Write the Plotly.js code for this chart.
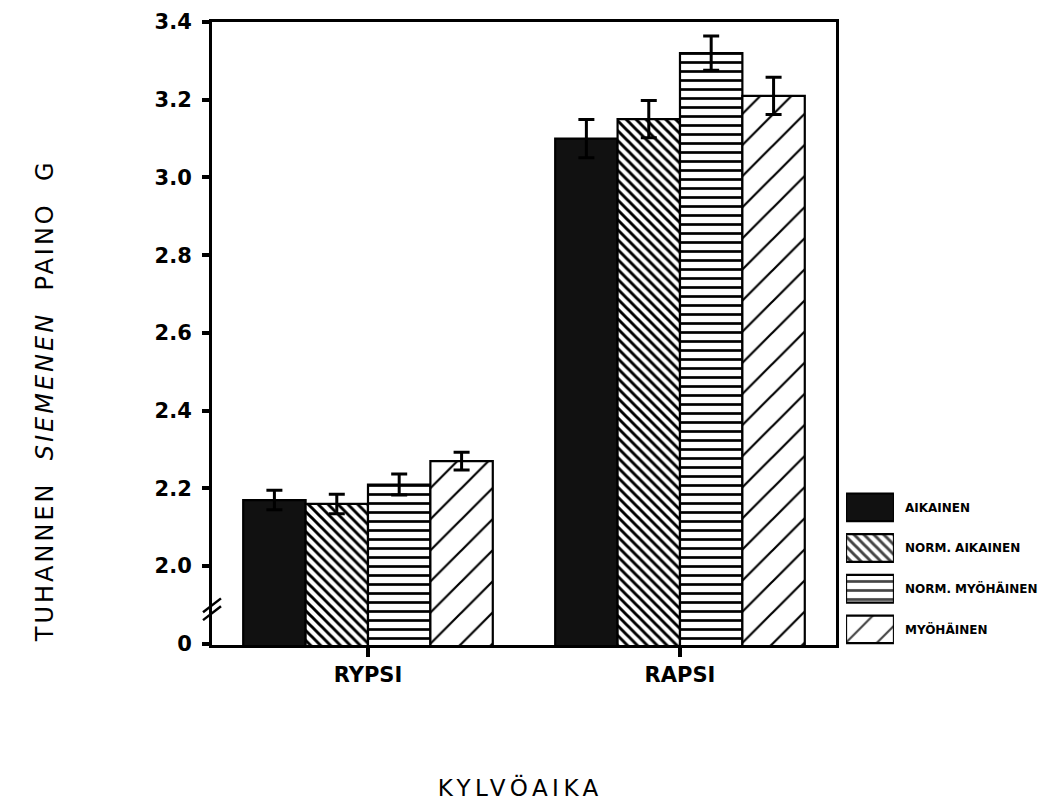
<!DOCTYPE html>
<html>
<head>
<meta charset="utf-8">
<script src="https://cdn.plot.ly/plotly-3.0.1.min.js"></script>
<style>
  html, body { margin: 0; padding: 0; background: #ffffff; }
  #chart { width: 1055px; height: 807px; }
  /* wide, spaced lettering for the axis captions */
  .annotation[data-index="0"] .annotation-text { letter-spacing: 3px; }
  .annotation[data-index="1"] .annotation-text { letter-spacing: 4.5px; }
</style>
</head>
<body>
<div id="chart"></div>
<script>
// Crops and sowing-time groups
const categories = ['RYPSI', 'RAPSI'];
const seriesNames = ['AIKAINEN', 'NORM. AIKAINEN', 'NORM. MYÖHÄINEN', 'MYÖHÄINEN'];

// Thousand-seed weight (g) per sowing time, in category order
const aikainen      = [2.17, 3.10];
const normAikainen  = [2.16, 3.15];
const normMyohainen = [2.21, 3.32];
const myohainen     = [2.27, 3.21];

// Error bar half-lengths (g)
const errAikainen      = [0.025, 0.049];
const errNormAikainen  = [0.025, 0.048];
const errNormMyohainen = [0.027, 0.044];
const errMyohainen     = [0.023, 0.048];

// Y ticks: the bottom tick stands for zero below the axis break
const yTickVals = [1.8, 2.0, 2.2, 2.4, 2.6, 2.8, 3.0, 3.2, 3.4];
const yTickText = ['0', '2.0', '2.2', '2.4', '2.6', '2.8', '3.0', '3.2', '3.4'];

const values = [aikainen, normAikainen, normMyohainen, myohainen];
const errors = [errAikainen, errNormAikainen, errNormMyohainen, errMyohainen];

// Fill style of each series: solid black, dense back-diagonal, horizontal, wide diagonal
const styles = [
  { color: '#111111', shape: '',   size: 8,  solidity: 0.3 },
  { color: '#ffffff', shape: '\\', size: 7,  solidity: 0.42 },
  { color: '#ffffff', shape: '-',  size: 9,  solidity: 0.3 },
  { color: '#ffffff', shape: '/',  size: 22, solidity: 0.1 }
];

const traces = seriesNames.map((name, i) => ({
  type: 'bar',
  name: name,
  x: categories,
  y: values[i],
  marker: {
    color: styles[i].color,
    line: { color: '#000000', width: 2.2 },
    pattern: {
      shape: styles[i].shape,
      fgcolor: '#000000',
      fgopacity: 1,
      bgcolor: styles[i].color,
      size: styles[i].size,
      solidity: styles[i].solidity,
      fillmode: 'overlay'
    }
  },
  error_y: {
    type: 'data',
    array: errors[i],
    visible: true,
    color: '#000000',
    thickness: 3,
    width: 8
  },
  showlegend: false,
  hoverinfo: 'skip'
}));

// Key: one swatch per sowing time, labelled on the right
traces.push({
  type: 'bar',
  orientation: 'h',
  y: seriesNames,
  x: seriesNames.map(() => 1),
  base: 0,
  width: 0.68,
  xaxis: 'x2',
  yaxis: 'y2',
  marker: {
    color: styles.map(s => s.color),
    line: { color: '#000000', width: 2.2 },
    pattern: {
      shape: styles.map(s => s.shape),
      fgcolor: '#000000',
      fgopacity: 1,
      bgcolor: styles.map(s => s.color),
      size: styles.map(s => s.size),
      solidity: styles.map(s => s.solidity),
      fillmode: 'overlay'
    }
  },
  showlegend: false,
  hoverinfo: 'skip'
});

const axisFont = { family: 'DejaVu Sans', size: 21, color: '#000000', weight: 'bold' };

const layout = {
  width: 1055,
  height: 807,
  paper_bgcolor: '#ffffff',
  plot_bgcolor: '#ffffff',
  margin: { l: 212, r: 5, t: 22, b: 147 },
  barmode: 'group',
  bargap: 0.2,
  bargroupgap: 0,
  showlegend: false,
  xaxis: {
    domain: [0, 0.7446],
    type: 'category',
    range: [-0.5, 1.5],
    showline: true,
    linecolor: '#000000',
    linewidth: 3,
    mirror: true,
    ticks: 'outside',
    ticklen: 9,
    tickwidth: 4,
    tickcolor: '#000000',
    tickfont: axisFont,
    showgrid: false,
    zeroline: false,
    fixedrange: true
  },
  yaxis: {
    domain: [0.0235, 1],
    range: [1.797, 3.4],
    tickmode: 'array',
    tickvals: yTickVals,
    ticktext: yTickText,
    showline: true,
    linecolor: '#000000',
    linewidth: 3,
    mirror: true,
    ticks: 'outside',
    ticklen: 7,
    tickwidth: 4,
    tickcolor: '#000000',
    tickfont: axisFont,
    ticklabelstandoff: 6,
    showgrid: false,
    zeroline: false,
    fixedrange: true
  },
  xaxis2: {
    domain: [0.7566, 0.8138],
    anchor: 'y2',
    range: [0, 1],
    visible: false,
    fixedrange: true
  },
  yaxis2: {
    domain: [0.0161, 0.2712],
    anchor: 'x2',
    type: 'category',
    autorange: 'reversed',
    side: 'right',
    showline: false,
    showgrid: false,
    zeroline: false,
    ticks: '',
    ticklabelstandoff: 10,
    tickfont: { family: 'DejaVu Sans', size: 12, color: '#000000', weight: 'bold' },
    fixedrange: true
  },
  shapes: [
    // axis break marks on the value axis
    { type: 'line', xref: 'x domain', yref: 'y', x0: -0.0144, x1: 0.0144, y0: 1.881, y1: 1.917,
      line: { color: '#000000', width: 2.5 } },
    { type: 'line', xref: 'x domain', yref: 'y', x0: -0.0144, x1: 0.0144, y0: 1.861, y1: 1.897,
      line: { color: '#000000', width: 2.5 } }
  ],
  annotations: [
    {
      text: 'TUHANNEN  <i>SIEMENEN</i>  PAINO  G',
      xref: 'paper', yref: 'paper',
      x: -0.199, y: 0.406,
      xanchor: 'center', yanchor: 'middle',
      textangle: -90,
      showarrow: false,
      font: { family: 'DejaVu Sans', size: 24, color: '#000000' }
    },
    {
      text: 'KYLVÖAIKA',
      xref: 'paper', yref: 'paper',
      x: 0.3687, y: -0.2006,
      xanchor: 'center', yanchor: 'middle',
      showarrow: false,
      font: { family: 'DejaVu Sans', size: 23, color: '#000000' }
    }
  ]
};

Plotly.newPlot('chart', traces, layout, { staticPlot: true, displayModeBar: false });
</script>
</body>
</html>
